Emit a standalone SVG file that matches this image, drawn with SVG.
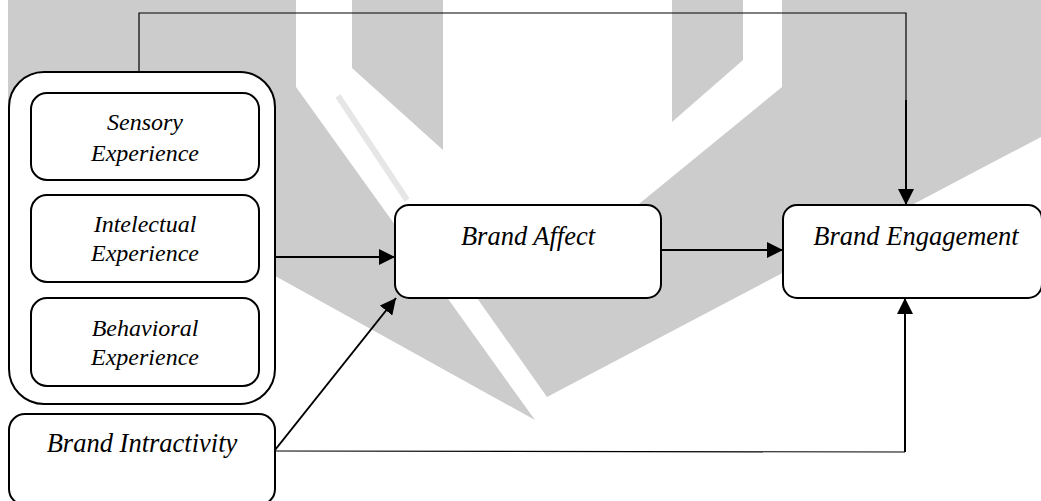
<svg xmlns="http://www.w3.org/2000/svg" width="1041" height="501" viewBox="0 0 1041 501">
  <style>
    .mark { fill: #cccccc; }
    .box { fill: #ffffff; stroke: #000000; stroke-width: 2; }
    .lbl { font-family: "Liberation Serif", "Times New Roman", serif; font-style: italic; fill: #000000; text-anchor: middle; }
    .sm { font-size: 24px; }
    .lg { font-size: 26.5px; }
    .thin { fill: none; stroke: #000000; stroke-width: 1.2; }
    .thick { fill: none; stroke: #000000; stroke-width: 2; }
  </style>
  <defs>
    <marker id="arrow" markerUnits="userSpaceOnUse" markerWidth="16" markerHeight="16" refX="16" refY="8" orient="auto">
      <path d="M0,0 L16,8 L0,16 Z" fill="#000000"/>
    </marker>
  </defs>

  <rect width="1041" height="501" fill="#ffffff"/>

  <!-- background emblem -->
  <g id="emblem">
    <polygon class="mark" points="8,0 296,0 296,87 535,420 8,128"/>
    <polygon class="mark" points="352,0 443,0 443,150 352,68"/>
    <polygon class="mark" points="672,0 743,0 743,60 672,122"/>
    <polygon class="mark" points="782,0 1041,0 1041,137 547,397 477,298 455,268 634,208 782,87"/>
    <line x1="338" y1="96" x2="407" y2="200" stroke="#e6e6e6" stroke-width="6"/>
  </g>

  <!-- connectors -->
  <g id="connectors">
    <polyline class="thin" points="139,72 139,13 906,13 906,190"/>
    <line class="thick" x1="906" y1="100" x2="906" y2="205" marker-end="url(#arrow)"/>
    <line class="thick" x1="276" y1="257" x2="395" y2="257" marker-end="url(#arrow)"/>
    <line class="thick" x1="661" y1="250" x2="783" y2="250" marker-end="url(#arrow)"/>
    <line class="thick" x1="275" y1="450" x2="396" y2="298" marker-end="url(#arrow)"/>
    <polyline class="thin" points="275,451 905,452"/>
    <line class="thick" x1="905" y1="452" x2="905" y2="298" marker-end="url(#arrow)"/>
  </g>

  <!-- brand experience group -->
  <g id="brand-experience">
    <rect class="box" x="9" y="72" width="266" height="332" rx="35" ry="35"/>
  </g>
  <g id="sensory-experience">
    <rect class="box" x="31" y="93" width="228" height="87" rx="16" ry="16"/>
    <text class="lbl sm" x="145" y="130">Sensory</text>
    <text class="lbl sm" x="145" y="161">Experience</text>
  </g>
  <g id="intelectual-experience">
    <rect class="box" x="31" y="195" width="228" height="87" rx="16" ry="16"/>
    <text class="lbl sm" x="145" y="232">Intelectual</text>
    <text class="lbl sm" x="145" y="261">Experience</text>
  </g>
  <g id="behavioral-experience">
    <rect class="box" x="31" y="298" width="228" height="88" rx="16" ry="16"/>
    <text class="lbl sm" x="145" y="336">Behavioral</text>
    <text class="lbl sm" x="145" y="365">Experience</text>
  </g>

  <g id="brand-intractivity">
    <rect class="box" x="9" y="414" width="266" height="91" rx="16" ry="16"/>
    <text class="lbl lg" x="142" y="452">Brand Intractivity</text>
  </g>

  <g id="brand-affect">
    <rect class="box" x="395" y="205" width="266" height="93" rx="14" ry="14"/>
    <text class="lbl lg" x="528" y="245">Brand Affect</text>
  </g>

  <g id="brand-engagement">
    <rect class="box" x="783" y="205" width="259" height="93" rx="14" ry="14"/>
    <text class="lbl lg" x="916" y="245">Brand Engagement</text>
  </g>
</svg>
